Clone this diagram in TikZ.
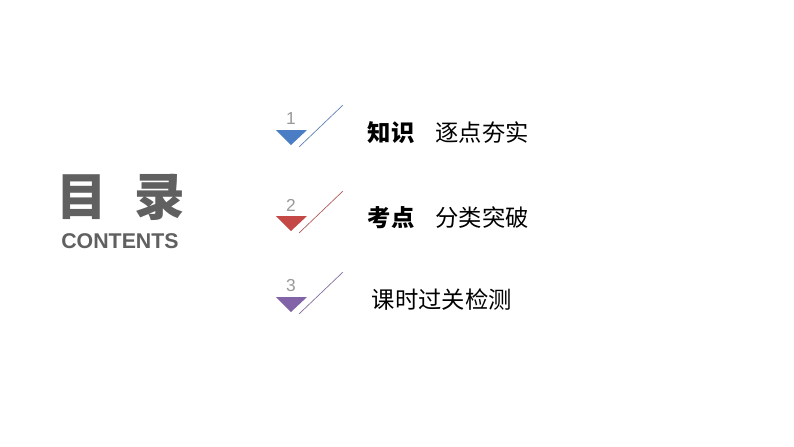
\documentclass[tikz,border=0pt]{standalone}
\usepackage{fontspec}
\setmainfont{Liberation Sans}
\newfontfamily\cjk{Noto Sans CJK SC}
\definecolor{markone}{RGB}{74,125,196}
\definecolor{marktwo}{RGB}{196,72,70}
\definecolor{markthree}{RGB}{130,99,168}
\begin{document}
\begin{tikzpicture}[x=0.75pt,y=-0.75pt]
  % Styles
  \tikzset{
    num/.style={text=gray!80,font=\fontsize{13}{13}\selectfont},
    slash/.style={line width=0.5pt},
    itemtext/.style={anchor=west,font=\cjk\fontsize{17.5}{17.5}\selectfont}
  }
  \useasboundingbox[fill=white] (0,0) rectangle (794,447);

  % Title
  \node[text=gray!75!black,font=\cjk\bfseries\fontsize{38}{38}\selectfont] (title) at (121,197) {目\hspace{0.55em}录};
  \node[text=gray!75!black,font=\bfseries\fontsize{16}{16}\selectfont] (contents) at (120,241) {CONTENTS};

  % Markers
  \foreach \i/\y/\col in {1/130/markone, 2/216/marktwo, 3/297/markthree}{
    \fill[\col] (276,\y) -- (307,\y) -- (291,\y+15) -- cycle;
    \node[num] (n\i) at (291,\y-11) {\i};
    \draw[slash,\col!70!gray] (299,\y+17) -- (343,\y-25);
  }

  % Items
  \node[itemtext] (k1) at (363,133) {\textbf{知识}\hspace{0.9em}逐点夯实};
  \node[itemtext] (k2) at (363,218) {\textbf{考点}\hspace{0.9em}分类突破};
  \node[itemtext] (k3) at (367,300) {课时过关检测};
\end{tikzpicture}
\end{document}
